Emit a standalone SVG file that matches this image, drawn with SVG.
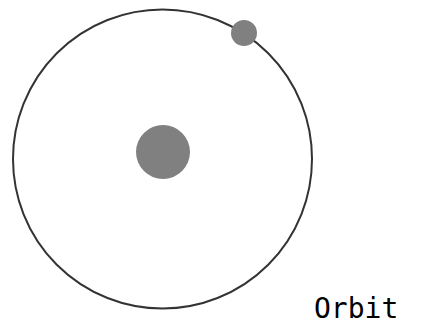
<svg xmlns="http://www.w3.org/2000/svg" width="422" height="325" viewBox="0 0 422 325">
<style>
.orbit{fill:none;stroke:#333;stroke-width:2}
.body{fill:#808080}
.lbl{font-family:"DejaVu Sans Mono",monospace;font-size:28px;fill:#000}
</style>
<rect width="422" height="325" fill="#fff"/>
<g id="orbit"><circle class="orbit" cx="162.5" cy="159" r="149.5"/></g>
<g id="sun"><circle class="body" cx="163" cy="152" r="27"/></g>
<g id="planet"><circle class="body" cx="244" cy="33" r="13"/></g>
<g id="label"><text class="lbl" x="314" y="318">Orbit</text></g>
</svg>
